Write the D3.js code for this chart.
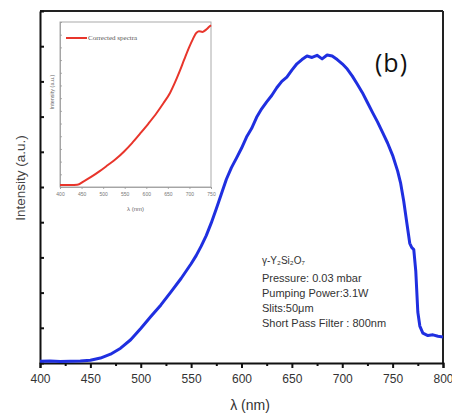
<!DOCTYPE html>
<html>
<head>
<meta charset="utf-8">
<script src="https://cdn.jsdelivr.net/npm/d3@7"></script>
<style>
  body { margin: 0; background: #fff; }
  svg { display: block; }
  .axis path, .axis line { stroke: #111; stroke-width: 2; }
  .axis text { font-family: "Liberation Sans", Arial, sans-serif; font-size: 12px; fill: #333; }
  .inset .axis path, .inset .axis line { stroke: #999; stroke-width: 0.8; }
  .inset .axis text { font-size: 5px; fill: #777; }
</style>
</head>
<body>
<div id="chart"></div>
<script>
// main spectrum (wavelength nm / intensity a.u.)
var wavelengths = [400, 410, 420, 430, 440, 450, 460, 470, 480, 490, 500, 510, 520, 530, 540, 550, 555, 560, 565, 570, 575,
  580, 585, 590, 595, 600, 605, 610, 615, 620, 625, 630, 635, 640, 645, 650, 655, 660, 665, 670, 675,
  680, 685, 690, 695, 700, 705, 710, 715, 720, 725, 730, 735, 740, 745, 750, 755, 758, 761, 764, 767,
  769, 771, 773, 775, 777, 780, 785, 790, 795, 800];
var intensity = [0.05, 0.06, 0.04, 0.05, 0.06, 0.08, 0.14, 0.25, 0.42, 0.66, 0.98, 1.32, 1.65, 2.02, 2.40, 2.82, 3.05, 3.32, 3.62, 3.98, 4.38,
  4.80, 5.22, 5.55, 5.82, 6.10, 6.42, 6.66, 6.98, 7.22, 7.42, 7.60, 7.82, 8.00, 8.12, 8.32, 8.50, 8.62, 8.72, 8.68, 8.74,
  8.64, 8.75, 8.72, 8.62, 8.50, 8.35, 8.15, 7.92, 7.68, 7.40, 7.12, 6.85, 6.55, 6.25, 5.90, 5.45, 5.10, 4.60, 4.00, 3.40,
  3.28, 3.22, 2.60, 1.45, 1.05, 0.85, 0.78, 0.80, 0.76, 0.74];
var xTicks = [400, 450, 500, 550, 600, 650, 700, 750, 800];
var xMinorTicks = [425, 475, 525, 575, 625, 675, 725, 775];
var yTicks = [0, 1, 2, 3, 4, 5, 6, 7, 8, 9, 10];

// inset: corrected spectra
var insetWavelengths = [400, 410, 425, 440, 455, 473, 492, 511, 530, 548, 567, 586, 605, 624, 640, 655, 666, 677, 688, 700, 708, 715, 722, 730, 738, 745, 750];
var insetIntensity = [0.16, 0.16, 0.15, 0.18, 0.45, 0.81, 1.25, 1.73, 2.22, 2.78, 3.46, 4.22, 5.00, 5.83, 6.62, 7.41, 8.20, 9.09, 10.05, 11.06, 11.65, 12.10, 12.28, 12.22, 12.38, 12.60, 12.75];
var insetXTicks = [400, 450, 500, 550, 600, 650, 700, 750];
var insetYTicks = d3.range(0, 14);

var notes = ["γ-Y₂Si₂O₇", "Pressure: 0.03 mbar", "Pumping Power:3.1W", "Slits:50μm", "Short Pass Filter : 800nm"];

var W = 452, H = 414;
var margin = { top: 11, right: 9, bottom: 51, left: 40 };
var width = W - margin.left - margin.right;
var height = H - margin.top - margin.bottom;

var svg = d3.select("#chart").append("svg")
  .attr("width", W).attr("height", H);

var g = svg.append("g")
  .attr("transform", "translate(" + margin.left + "," + margin.top + ")");

var x = d3.scaleLinear().domain([400, 800]).range([0, width]);
var y = d3.scaleLinear().domain([0, 10]).range([height, 0]);

// frame top/right
g.append("line").attr("x1", 0).attr("x2", width).attr("y1", 0).attr("y2", 0)
  .attr("stroke", "#222").attr("stroke-width", 2);
g.append("line").attr("x1", width).attr("x2", width).attr("y1", 0).attr("y2", height)
  .attr("stroke", "#222").attr("stroke-width", 2);

// x axis
g.append("g").attr("class", "x axis")
  .attr("transform", "translate(0," + height + ")")
  .call(d3.axisBottom(x).tickValues(xTicks).tickSize(5).tickPadding(6).tickFormat(d3.format("d")));
g.append("g").attr("class", "x axis minor")
  .attr("transform", "translate(0," + height + ")")
  .call(d3.axisBottom(x).tickValues(xMinorTicks).tickSize(3).tickFormat(""))
  .select(".domain").remove();

// y axis, ticks inward, no labels
g.append("g").attr("class", "y axis")
  .call(d3.axisLeft(y).tickValues(yTicks).tickSizeInner(-4).tickSizeOuter(0).tickFormat(""));

// axis labels
g.append("text")
  .attr("x", 210).attr("y", height + 47)
  .attr("text-anchor", "middle")
  .attr("font-family", "Liberation Sans, Arial, sans-serif")
  .attr("font-size", 14).attr("fill", "#333")
  .text("λ (nm)");
g.append("text")
  .attr("transform", "rotate(-90)")
  .attr("x", -167).attr("y", -15)
  .attr("text-anchor", "middle")
  .attr("font-family", "Liberation Sans, Arial, sans-serif")
  .attr("font-size", 13.5).attr("fill", "#444")
  .text("Intensity (a.u.)");

// spectrum
var mainData = wavelengths.map(function(w, i) { return { w: w, v: intensity[i] }; });
g.append("path")
  .datum(mainData)
  .attr("fill", "none")
  .attr("stroke", "#1f2fe0")
  .attr("stroke-width", 3)
  .attr("stroke-linejoin", "round")
  .attr("d", d3.line().x(function(d) { return x(d.w); }).y(function(d) { return y(d.v); }));

// panel label
g.append("text")
  .attr("x", 335).attr("y", 61)
  .attr("font-family", "Open Sans, Liberation Sans, sans-serif")
  .attr("font-size", 25).attr("letter-spacing", 1).attr("fill", "#111")
  .text("(b)");

// notes block
g.selectAll(".note").data(notes).enter().append("text")
  .attr("class", "note")
  .attr("x", 222)
  .attr("y", function(d, i) { return i == 0 ? 253 : 271 + (i - 1) * 15; })
  .attr("font-family", "Liberation Sans, Arial, sans-serif")
  .attr("font-size", function(d, i) { return i == 0 ? 10 : 11; })
  .attr("fill", "#333")
  .text(function(d) { return d; });

// inset
var inset = { left: 60, top: 22, right: 211, bottom: 187 };
var ig = svg.append("g").attr("class", "inset")
  .attr("transform", "translate(" + inset.left + "," + inset.top + ")");
var iw = inset.right - inset.left, ih = inset.bottom - inset.top;
var ix = d3.scaleLinear().domain([400, 750]).range([0, iw]);
var iy = d3.scaleLinear().domain([0, 13]).range([ih, 0]);

ig.append("rect").attr("width", iw).attr("height", ih)
  .attr("fill", "#fff").attr("stroke", "#aaa").attr("stroke-width", 1);

ig.append("g").attr("class", "axis")
  .attr("transform", "translate(0," + ih + ")")
  .call(d3.axisBottom(ix).tickValues(insetXTicks).tickSize(2).tickPadding(3).tickFormat(d3.format("d")));
ig.append("g").attr("class", "axis")
  .call(d3.axisLeft(iy).tickValues(insetYTicks).tickSizeInner(-2).tickSizeOuter(0).tickFormat(""));

ig.append("text")
  .attr("x", iw / 2).attr("y", ih + 24)
  .attr("text-anchor", "middle")
  .attr("font-family", "Liberation Sans, Arial, sans-serif")
  .attr("font-size", 6).attr("fill", "#666")
  .text("λ (nm)");
ig.append("text")
  .attr("transform", "rotate(-90)")
  .attr("x", -70).attr("y", -6)
  .attr("text-anchor", "middle")
  .attr("font-family", "Liberation Sans, Arial, sans-serif")
  .attr("font-size", 5.5).attr("fill", "#666")
  .text("Intensity (a.u.)");

// inset legend
ig.append("line").attr("x1", 6).attr("x2", 27).attr("y1", 16).attr("y2", 16)
  .attr("stroke", "#e8352b").attr("stroke-width", 2);
ig.append("text")
  .attr("x", 28).attr("y", 18)
  .attr("font-family", "Liberation Serif, Times New Roman, serif")
  .attr("font-size", 7).attr("fill", "#555")
  .text("Corrected spectra");

var insetData = insetWavelengths.map(function(w, i) { return { w: w, v: insetIntensity[i] }; });
ig.append("path")
  .datum(insetData)
  .attr("fill", "none")
  .attr("stroke", "#e8352b")
  .attr("stroke-width", 2)
  .attr("stroke-linejoin", "round")
  .attr("d", d3.line().curve(d3.curveMonotoneX).x(function(d) { return ix(d.w); }).y(function(d) { return iy(d.v); }));
</script>
</body>
</html>
